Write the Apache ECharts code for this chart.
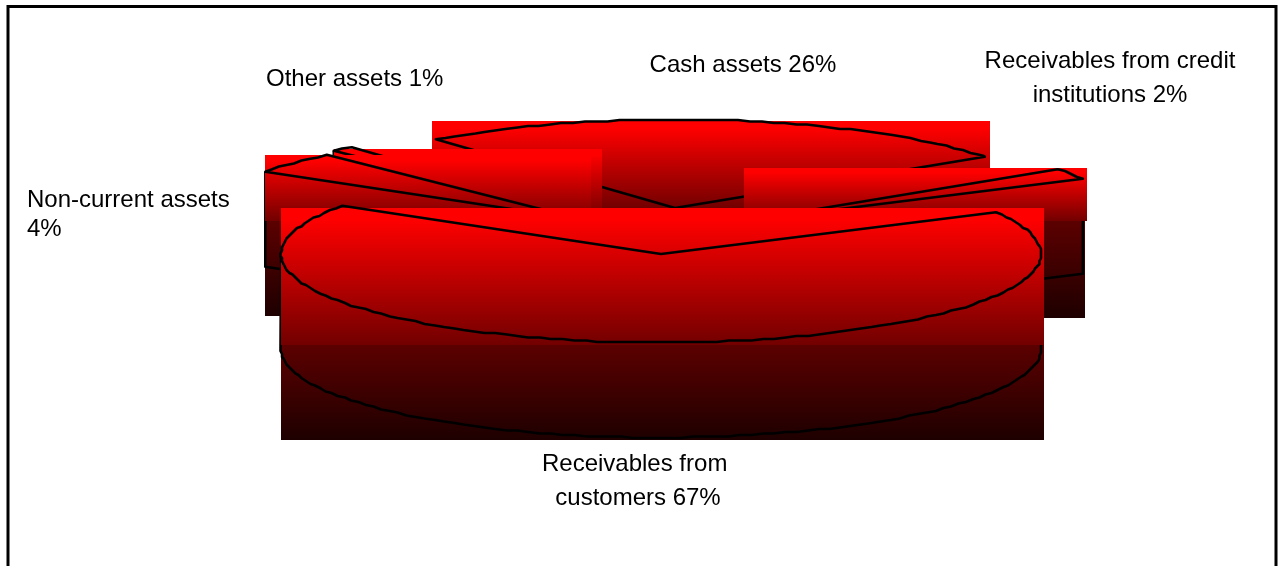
<!DOCTYPE html>
<html>
<head>
<meta charset="utf-8">
<style>html,body{margin:0;padding:0;background:#fff;overflow:hidden}#chart{width:1279px;height:566px}</style>
<script src="https://cdn.jsdelivr.net/npm/echarts@6/dist/echarts.min.js"></script>
</head>
<body>
<div id="chart"></div>
<script>
// Asset structure, clockwise from the first slice.
const sliceNames = ['Cash assets ', 'Receivables from credit\ninstitutions ', 'Receivables from \ncustomers ', 'Non-current assets\n', 'Other assets '];
const sliceValues = [26, 2, 67, 4, 1];

// Back-to-front painting order of the exploded slices.
const paintOrder = [0, 4, 3, 1, 2];

// Pie geometry.
const startAngle = 129;
const radiusX = 380;
const radiusY = 88.5;
const depth = 95;

// Exploded centre and fill-box margins [left, top, right, bottom] of each slice.
const sliceCentres = [[675, 208], [748, 220.5], [661, 254], [584, 220], [591, 216]];
const faceMargins = [[4, -1, 5, 0], [4, 1, 4, 0.5], [0, -2.5, 3, 3], [0, 0, 7, 1], [0, -2, 11, 0]];
const wallRightMargins = [5, 2, 3, 7, 11];
const wallBottomMargins = [0, 2, 0, 0, 0];

// Label anchor [x, y], alignment and line height of each slice.
const labelAnchors = [[743, 65], [1110, 78], [638, 481], [27, 215], [266, 79]];
const labelAligns = ['center', 'center', 'center', 'left', 'left'];
const labelLineHeights = [28, 34, 34, 29, 28];

const total = sliceValues.reduce((a, b) => a + b, 0);
const rad = d => d * Math.PI / 180;
const snap = v => Math.round(v / 1.5) * 1.5;

function sliceSpan(i) {
  let before = 0;
  for (let k = 0; k < i; k++) before += sliceValues[k];
  const a1 = startAngle - before / total * 360;
  return [a1, a1 - sliceValues[i] / total * 360];
}

function rimPoint(c, angle, drop) {
  return [c[0] + radiusX * Math.cos(rad(angle)), c[1] - radiusY * Math.sin(rad(angle)) + drop];
}

function sampleAngles(a1, a2) {
  const list = [];
  for (let a = a1; a > a2; a -= 1.8) list.push(a);
  list.push(a2);
  return list;
}

const stroke = { stroke: '#000', lineWidth: 2.6, fill: null, lineJoin: 'round' };
const faceFill = { type: 'linear', x: 0, y: 0, x2: 0, y2: 1, colorStops: [
  { offset: 0, color: '#ff0000' }, { offset: 0.08, color: '#ff0000' }, { offset: 1, color: '#720000' }] };
const wallFill = { type: 'linear', x: 0, y: 0, x2: 0, y2: 1, colorStops: [
  { offset: 0, color: '#5c0000' }, { offset: 1, color: '#1e0000' }] };

function renderSlice(params, api) {
  const i = api.value(1);
  const c = sliceCentres[i];
  const m = faceMargins[i];
  const [a1, a2] = sliceSpan(i);
  const angles = sampleAngles(a1, a2);
  const rim = angles.map(a => rimPoint(c, a, 0));
  const xs = rim.map(p => p[0]).concat(c[0]);
  const ys = rim.map(p => p[1]).concat(c[1]);
  const left = Math.round(Math.min(...xs) - m[0]);
  const right = Math.round(Math.max(...xs) + m[2]);
  const top = Math.round(Math.min(...ys) - m[1]);
  const bottom = Math.round(Math.max(...ys) + m[3]);
  const wallRight = Math.round(Math.max(...xs) + wallRightMargins[i]);
  const children = [];

  // Side wall: its fill box, the cut faces turned to the viewer, then the front rim.
  children.push({ type: 'rect', shape: { x: left, y: bottom, width: wallRight - left, height: depth + wallBottomMargins[i] }, style: { fill: wallFill } });
  const lowerCentre = [c[0], c[1] + depth];
  [[a1, Math.cos(rad(a1)) < 0], [a2, Math.cos(rad(a2)) > 0]].forEach(([a, facing]) => {
    if (!facing) return;
    const p = rimPoint(c, a, 0);
    const q = rimPoint(c, a, depth);
    children.push({ type: 'polyline', shape: { points: [p, q, lowerCentre] }, style: stroke });
  });
  const front = angles.filter(a => Math.sin(rad(a)) < 0);
  if (front.length) {
    const lower = front.map(a => rimPoint(c, a, depth)).map(p => [snap(p[0]), snap(p[1])]);
    const first = rimPoint(c, front[0], 0);
    const last = rimPoint(c, front[front.length - 1], 0);
    children.push({ type: 'polyline', shape: { points: [first].concat(lower, [last]) }, style: stroke });
  }

  // Top face: fill box, then the outline of the flattened wedge.
  children.push({ type: 'rect', shape: { x: left, y: top, width: right - left, height: bottom - top }, style: { fill: faceFill } });
  const outline = [c].concat(rim.map((p, k) => (k === 0 || k === rim.length - 1) ? p : [snap(p[0]), snap(p[1])]));
  children.push({ type: 'polygon', shape: { points: outline }, style: stroke });

  // Slice label.
  children.push({
    type: 'text', z2: 100,
    style: {
      text: sliceNames[i] + sliceValues[i] + '%',
      x: labelAnchors[i][0], y: labelAnchors[i][1],
      align: labelAligns[i], verticalAlign: 'middle',
      font: '24px "Liberation Sans", Arial, sans-serif',
      lineHeight: labelLineHeights[i], fill: '#000'
    }
  });
  return { type: 'group', children };
}

const chart = echarts.init(document.getElementById('chart'), null, { renderer: 'canvas' });
chart.setOption({
  animation: false,
  backgroundColor: '#fff',
  graphic: [{
    type: 'rect', silent: true, z: -1,
    shape: { x: 8, y: 6.5, width: 1268, height: 640 },
    style: { fill: '#fff', stroke: '#000', lineWidth: 3 }
  }],
  series: [{
    type: 'custom',
    coordinateSystem: 'none',
    silent: true,
    clip: false,
    renderItem: renderSlice,
    data: paintOrder.map(i => [sliceValues[i], i])
  }]
});
</script>
</body>
</html>
